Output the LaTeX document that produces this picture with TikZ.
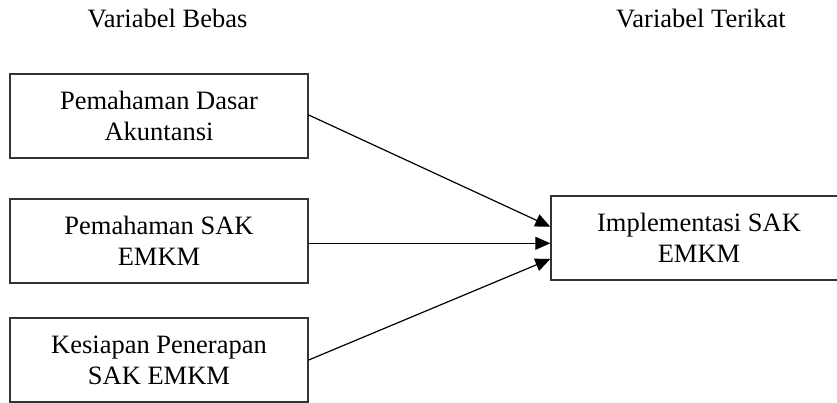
\documentclass[tikz,border=0pt]{standalone}
\usepackage{fontspec}
\setmainfont{Liberation Serif}
\usetikzlibrary{arrows.meta,calc}
\begin{document}
\begin{tikzpicture}[x=1pt,y=-1pt,
  varbox/.style={draw=black!80,line width=1.4pt,minimum width=298pt,minimum height=84pt,
    inner sep=0pt,align=center,font=\fontsize{26.5}{31}\selectfont},
  head/.style={anchor=base,inner sep=0pt,font=\fontsize{26.5}{31}\selectfont},
  conn/.style={line width=1.2pt,-{Triangle[length=15pt,width=13pt]}}]
\useasboundingbox (0,0) rectangle (837,403);
\clip (0,0) rectangle (837,403);
\node[head] (h1) at (167.5,27.7) {Variabel Bebas};
\node[head] (h2) at (701,27.7) {Variabel Terikat};
\node[varbox] (b1) at (159,116) {Pemahaman Dasar\\Akuntansi};
\node[varbox] (b2) at (159,241) {Pemahaman SAK\\EMKM};
\node[varbox] (b3) at (159,360) {Kesiapan Penerapan\\SAK EMKM};
\node[varbox,minimum width=296pt] (r) at (699,238) {Implementasi SAK\\EMKM};
\coordinate (t1) at ($(r.west)+(0,-11.3)$);
\coordinate (t2) at ($(r.west)+(0,5.3)$);
\coordinate (t3) at ($(r.west)+(0,21)$);
\coordinate (s1) at ($(b1.east)+(0,-1)$);
\coordinate (s2) at (b2.east |- t2);
\coordinate (s3) at (b3.east);
\draw[conn] (s1) -- (t1);
\draw[conn] (s2) -- (t2);
\draw[conn] (s3) -- (t3);
\end{tikzpicture}
\end{document}
